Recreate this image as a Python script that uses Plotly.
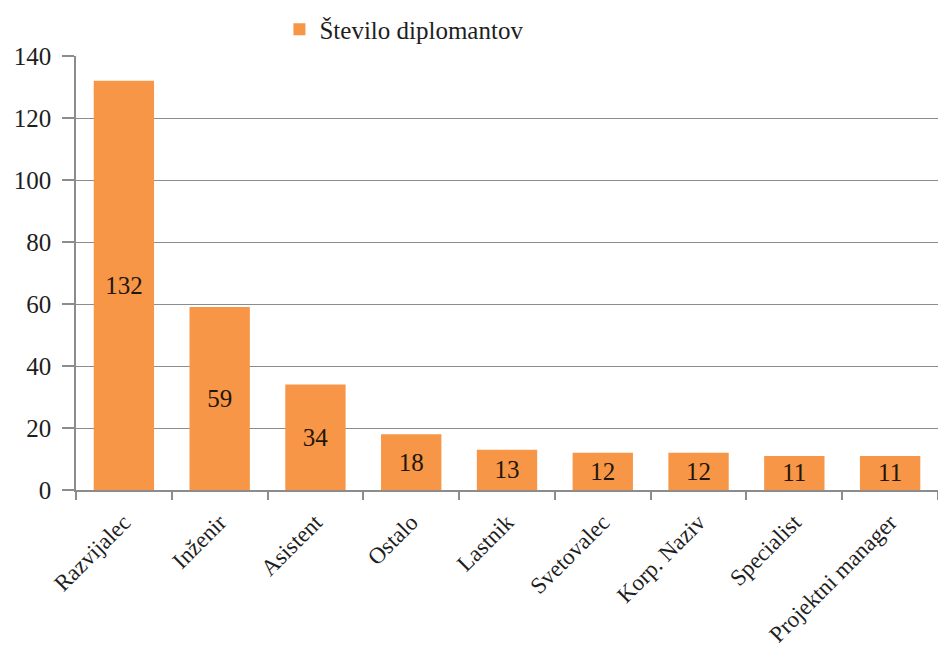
import plotly.graph_objects as go

# Number of graduates by job title
categories = ["Razvijalec", "Inženir", "Asistent", "Ostalo", "Lastnik",
              "Svetovalec", "Korp. Naziv", "Specialist", "Projektni manager"]
graduates = [132, 59, 34, 18, 13, 12, 12, 11, 11]
series_name = "Število diplomantov"
y_ticks = [0, 20, 40, 60, 80, 100, 120, 140]

font_family = "Liberation Serif, Times New Roman, serif"
axis_grey = "#8c8c8c"
text_dark = "#1e1e1e"

fig = go.Figure(
    go.Bar(
        x=categories,
        y=graduates,
        name=series_name,
        marker=dict(color="#F79646", line=dict(width=0)),
        text=[str(v) for v in graduates],
        textposition="inside",
        insidetextanchor="middle",
        textangle=0,
        textfont=dict(family=font_family, size=25, color="#24160a"),
        showlegend=True,
    )
)

fig.update_layout(
    width=938,
    height=660,
    margin=dict(l=76, r=0, t=56, b=170),
    paper_bgcolor="white",
    plot_bgcolor="white",
    bargap=0.37,
    font=dict(family=font_family, size=25, color=text_dark),
    uniformtext=dict(minsize=10, mode="show"),
    legend=dict(
        orientation="h",
        x=0.236,
        xanchor="left",
        y=1.008,
        yanchor="bottom",
        font=dict(family=font_family, size=25, color=text_dark),
        itemwidth=30,
        bgcolor="rgba(0,0,0,0)",
    ),
    xaxis=dict(
        automargin=False,
        tickangle=-45,
        showline=True,
        linecolor=axis_grey,
        linewidth=1.5,
        ticks="outside",
        tickson="boundaries",
        ticklen=8,
        tickcolor=axis_grey,
        tickwidth=1.5,
        showgrid=False,
        ticklabelstandoff=8,
        tickfont=dict(family=font_family, size=23, color=text_dark),
    ),
    yaxis=dict(
        automargin=False,
        range=[0, 140],
        tickvals=y_ticks,
        showline=True,
        linecolor=axis_grey,
        linewidth=1.5,
        ticks="outside",
        ticklen=12,
        tickcolor=axis_grey,
        tickwidth=1.5,
        showgrid=True,
        gridcolor=axis_grey,
        gridwidth=1.2,
        zeroline=False,
        ticklabelstandoff=6,
        tickfont=dict(family=font_family, size=25, color=text_dark),
    ),
)

fig.write_html("out.html")
